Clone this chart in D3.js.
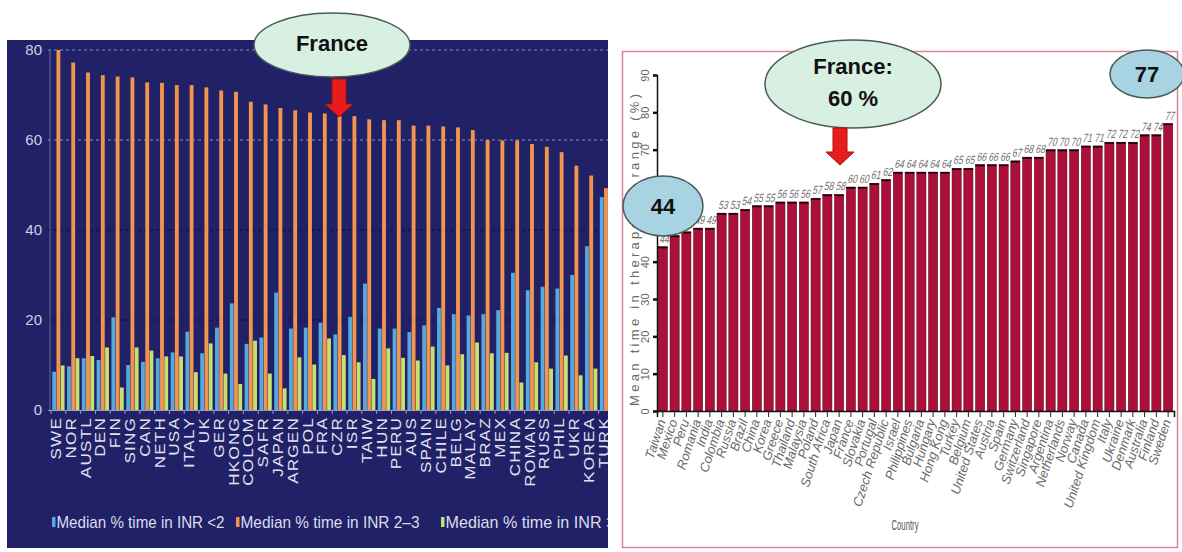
<!DOCTYPE html>
<html><head><meta charset="utf-8">
<script src="https://cdn.jsdelivr.net/npm/d3@7"></script>
<style>
html,body{margin:0;padding:0;background:#fff;}
svg{display:block;}
</style></head>
<body>
<svg id="chart" width="1182" height="552"></svg>
<script>
// ---- Left panel: median % of time in each INR range, by country ----
const inrCountries = ["SWE","NOR","AUSTL","DEN","FIN","SING","CAN","NETH","USA","ITALY","UK","GER","HKONG","COLOM","SAFR","JAPAN","ARGEN","POL","FRA","CZR","ISR","TAIW","HUN","PERU","AUS","SPAIN","CHILE","BELG","MALAY","BRAZ","MEX","CHINA","ROMAN","RUSS","PHIL","UKR","KOREA","TURK"];
const inrBelow2 = [8.5,9.7,11.5,11.1,20.6,10,10.7,11.5,12.8,17.4,12.6,18.3,23.7,14.7,16.1,26.1,18.1,18.3,19.4,16.8,20.7,28.1,18.1,18.1,17.3,18.8,22.7,21.3,21.0,21.3,22.2,30.5,26.6,27.4,27.0,30.0,36.4,47.3];
const inr2to3 = [80,77.2,75,74.4,74.1,73.9,72.8,72.7,72.2,72.2,71.7,71,70.7,68.5,67.9,67.1,66.6,66.1,65.9,65.3,65.3,64.6,64.4,64.4,63.2,63.2,63,62.8,62.2,60,59.9,59.9,59.1,58.5,57.3,54.3,52.1,49.3];
const inrAbove3 = [9.9,11.5,12.0,13.9,5.0,13.9,13.2,11.9,11.9,8.4,14.8,8.1,5.8,15.4,8.1,4.8,11.7,10.1,15.9,12.2,10.6,6.9,13.7,11.6,11.0,14.1,9.9,12.4,15.0,12.6,12.7,6.1,10.6,9.2,12.1,7.7,9.2,3.4];
const inrSeries = ["Median % time in INR <2","Median % time in INR 2–3","Median % time in INR >3"];
const inrColors = ["#55a9df","#f3944e","#c9df6e"];
const inrTicks = [0,20,40,60,80];

// ---- Right panel: mean time in therapeutic range, by country ----
const ttrCountries = ["Taiwan","Mexico","Peru","Romania","India","Colombia","Russia","Brazil","China","Korea","Greece","Thailand","Malaysia","Poland","South Africa","Japan","France","Slovakia","Portugal","Czech Republic","Israel","Philippines","Bulgaria","Hungary","Hong Kong","Turkey","Belgium","United States","Austria","Spain","Germany","Switzerland","Singapore","Argentina","Netherlands","Norway","Canada","United Kingdom","Italy","Ukraine","Denmark","Australia","Finland","Sweden"];
const ttrValues = [44,47,48,49,49,53,53,54,55,55,56,56,56,57,58,58,60,60,61,62,64,64,64,64,64,65,65,66,66,66,67,68,68,70,70,70,71,71,72,72,72,74,74,77];
const ttrTicks = [0,10,20,30,40,50,60,70,80,90];

const svg = d3.select("#chart");

// ================= Left panel =================
const L = {x0: 7, y0: 40, x1: 608, y1: 548, plotLeft: 48, plotTop: 50, plotBottom: 410};
svg.append("defs").append("clipPath").attr("id","leftClip")
  .append("rect").attr("x",L.x0).attr("y",L.y0).attr("width",L.x1-L.x0).attr("height",L.y1-L.y0);

const left = svg.append("g").attr("clip-path","url(#leftClip)");
left.append("rect").attr("x",L.x0).attr("y",L.y0).attr("width",L.x1-L.x0).attr("height",L.y1-L.y0).attr("fill","#202166");

const yL = d3.scaleLinear().domain([0,80]).range([L.plotBottom, L.plotTop]);
const x0 = d3.scaleBand().domain(inrCountries).range([51, 51 + 38*14.8]).paddingInner(0.14).paddingOuter(0.07);
const x1 = d3.scaleBand().domain(d3.range(3)).range([0, x0.bandwidth()]);

// gridlines
left.append("g").selectAll("line").data(inrTicks.filter(d => d > 0)).join("line")
  .attr("x1", L.plotLeft).attr("x2", L.x1)
  .attr("y1", d => yL(d)).attr("y2", d => yL(d))
  .attr("stroke", d => d >= 60 ? "#8c8cc0" : "#0c0c34")
  .attr("stroke-width", 1).attr("stroke-dasharray","3,3");

// y axis
const yAxisL = left.append("g").attr("transform",`translate(${L.plotLeft - 4},0)`)
  .call(d3.axisLeft(yL).tickValues(inrTicks).tickSize(0).tickPadding(2));
yAxisL.select(".domain").remove();
yAxisL.selectAll("text").attr("fill","#cfd0e2").style("font","15px 'Liberation Sans', Arial, sans-serif");
left.append("line").attr("x1",L.plotLeft+2).attr("x2",L.plotLeft+2).attr("y1",L.plotTop).attr("y2",L.plotBottom)
  .attr("stroke","#6a6aa0").attr("stroke-width",1);

// bars
const seriesVals = [inrBelow2, inr2to3, inrAbove3];
const groups = left.append("g").selectAll("g").data(inrCountries).join("g")
  .attr("transform", d => `translate(${x0(d)},0)`);
groups.selectAll("rect").data((c,i) => seriesVals.map((s,k) => ({k, v: s[i]}))).join("rect")
  .attr("x", d => x1(d.k) + 0.2)
  .attr("width", x1.bandwidth() - 0.4)
  .attr("y", d => yL(d.v))
  .attr("height", d => yL(0) - yL(d.v))
  .attr("fill", d => inrColors[d.k]);

// baseline
left.append("line").attr("x1",L.plotLeft).attr("x2",L.x1).attr("y1",L.plotBottom+0.5).attr("y2",L.plotBottom+0.5)
  .attr("stroke","#9a9ac8").attr("stroke-width",1);
left.append("g").selectAll("line").data(inrCountries).join("line")
  .attr("x1", d => x0(d) - 1).attr("x2", d => x0(d) - 1)
  .attr("y1", L.plotBottom).attr("y2", L.plotBottom + 4)
  .attr("stroke","#9a9ac8");

// category labels, vertical and slightly stretched along the reading direction
left.append("g").selectAll("text").data(inrCountries).join("text")
  .attr("transform", d => `translate(${x0(d) + x0.bandwidth()/2 + 2.5},${L.plotBottom + 7}) rotate(-90) scale(1.22,1)`)
  .attr("text-anchor","end")
  .attr("fill","#e2e2f0")
  .style("font","14px 'Liberation Sans', Arial, sans-serif")
  .style("letter-spacing","1px")
  .text(d => d);

// legend
const legendX = [52, 236, 441];
const legendW = [168, 179, 179];
const lg = left.append("g").selectAll("g").data(inrSeries).join("g")
  .attr("transform", (d,i) => `translate(${legendX[i]},528)`);
lg.append("rect").attr("x",0).attr("y",-11).attr("width",3.5).attr("height",10).attr("fill",(d,i) => inrColors[i]);
lg.append("text").attr("x",4.5).attr("y",0)
  .attr("textLength",(d,i) => legendW[i]).attr("lengthAdjust","spacingAndGlyphs")
  .attr("fill","#dcdcec").style("font","17px 'Liberation Sans', Arial, sans-serif")
  .text(d => d);

// ================= Right panel =================
svg.append("rect").attr("x",622.5).attr("y",51.5).attr("width",555).attr("height",496)
  .attr("fill","#fff").attr("stroke","#d9849c").attr("stroke-width",1.5);

const yR = d3.scaleLinear().domain([0,90]).range([411, 75]);
const xR = d3.scaleBand().domain(ttrCountries).range([657, 1174]).paddingInner(0.22).paddingOuter(0.11);
const right = svg.append("g");

right.append("g").selectAll("rect").data(ttrCountries).join("rect")
  .attr("x", d => xR(d))
  .attr("width", xR.bandwidth())
  .attr("y", (d,i) => yR(ttrValues[i]))
  .attr("height", (d,i) => yR(0) - yR(ttrValues[i]))
  .attr("fill","#ad0f3b").attr("stroke","#4a0414").attr("stroke-width",0.5);
right.append("g").selectAll("line").data(ttrCountries).join("line")
  .attr("x1", d => xR(d)).attr("x2", d => xR(d) + xR.bandwidth())
  .attr("y1", (d,i) => yR(ttrValues[i]) + 0.8).attr("y2", (d,i) => yR(ttrValues[i]) + 0.8)
  .attr("stroke","#1a0006").attr("stroke-width",1.6);

// value labels
right.append("g").selectAll("text").data(ttrCountries).join("text")
  .attr("transform", (d,i) => `translate(${xR(d) + xR.bandwidth()/2 + 1},${yR(ttrValues[i]) - 4}) skewX(-14)`)
  .attr("text-anchor","middle")
  .attr("textLength", 9.5).attr("lengthAdjust","spacingAndGlyphs")
  .attr("fill","#707070")
  .style("font","12px 'Liberation Sans', Arial, sans-serif")
  .text((d,i) => ttrValues[i]);

// y axis
const yAxisR = right.append("g").attr("transform","translate(657,0)")
  .call(d3.axisLeft(yR).tickValues(ttrTicks).tickSize(4).tickFormat(d3.format("d")));
yAxisR.select(".domain").attr("stroke","#111").attr("stroke-width",1.5);
yAxisR.selectAll(".tick line").attr("stroke","#111").attr("stroke-width",2.5);
yAxisR.selectAll(".tick text")
  .attr("x",0).attr("dy",0)
  .attr("transform","translate(-8,0) rotate(-90)")
  .attr("text-anchor","middle")
  .attr("fill","#666")
  .style("font","11px 'Liberation Sans', Arial, sans-serif");

right.append("text")
  .attr("transform","translate(639,250) rotate(-90)")
  .attr("text-anchor","middle")
  .attr("textLength",312)
  .attr("fill","#6a6a6a")
  .style("font","13px 'Liberation Sans', Arial, sans-serif")
  .text("Mean time in therapeutic range (%)");

// x axis
const xAxisR = right.append("g").attr("transform","translate(0,411)")
  .call(d3.axisBottom(xR).tickSize(6).tickFormat(""));
xAxisR.select(".domain").attr("stroke","#111").attr("stroke-width",1.5);
xAxisR.selectAll(".tick line").attr("stroke","#222").attr("stroke-width",1);

right.append("g").selectAll("text").data(ttrCountries).join("text")
  .attr("transform", d => `translate(${xR(d) + xR.bandwidth()/2 + 3},421) rotate(-72)`)
  .attr("text-anchor","end")
  .attr("fill","#6a6a6a")
  .style("font","italic 13px 'Liberation Sans', Arial, sans-serif")
  .text(d => d);

right.append("text").attr("x",905).attr("y",530).attr("text-anchor","middle")
  .attr("fill","#555").attr("textLength",27).attr("lengthAdjust","spacingAndGlyphs")
  .style("font","14px 'Liberation Sans', Arial, sans-serif").text("Country");

// ================= Call-outs =================
function downArrow(g, cx, top, tip) {
  const sw = 7, hw = 14, neck = tip - 13;
  g.append("path")
    .attr("d", `M${cx-sw},${top} L${cx+sw},${top} L${cx+sw},${neck} L${cx+hw},${neck} L${cx},${tip} L${cx-hw},${neck} L${cx-sw},${neck} Z`)
    .attr("fill","#e81c1c").attr("stroke","#a80f0f").attr("stroke-width",1);
}
function bubble(g, cx, cy, rx, ry, fill, lines, baseYs, size) {
  g.append("ellipse").attr("cx",cx).attr("cy",cy).attr("rx",rx).attr("ry",ry)
    .attr("fill",fill).attr("stroke","#4a5a58").attr("stroke-width",1.5);
  lines.forEach((t,i) => g.append("text").attr("x",cx).attr("y",baseYs[i]).attr("text-anchor","middle")
    .attr("fill","#111").style("font",`bold ${size}px 'Liberation Sans', Arial, sans-serif`).text(t));
}
const notes = svg.append("g");
bubble(notes, 332, 45, 78, 32, "#d7f0e2", ["France"], [51], 22);
downArrow(notes, 339, 79, 117);
bubble(notes, 853, 84, 88, 44, "#d7f0e2", ["France:","60 %"], [74, 106], 22);
downArrow(notes, 840, 128, 165);
bubble(notes, 663, 206, 40, 30, "#a7d3e2", ["44"], [214], 22);
bubble(notes, 1147, 74, 37, 24, "#a7d3e2", ["77"], [82], 22);
</script>
</body></html>
